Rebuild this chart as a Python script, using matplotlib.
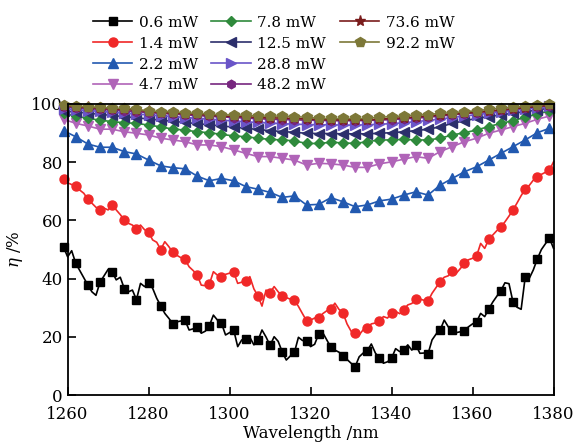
import numpy as np
import matplotlib
matplotlib.use("Agg")
import matplotlib.pyplot as plt
from matplotlib.lines import Line2D

plt.rcParams["font.family"] = ["DejaVu Serif"]
plt.rcParams["mathtext.fontset"] = "dejavuserif"

# 1 nm sampling for the two low-power curves (markers every 3 nm)
start_fine = 1259
p06 = [50.8, 47.5, 49.6, 45.3, 42.8, 40.3, 37.8, 35.5, 34.3, 38.8,
       41.0, 43.2, 42.4, 39.6, 40.5, 36.6, 35.5, 36.1, 32.8, 38.4,
       37.3, 38.5, 36.7, 33.3, 30.7, 28.1, 26.4, 24.5, 25.2, 25.5,
       25.7, 22.4, 22.8, 23.4, 21.3, 22.0, 23.9, 27.5, 25.8, 24.7,
       20.7, 21.5, 22.5, 16.7, 19.0, 19.2, 19.9, 17.3, 18.8, 22.4,
       20.0, 17.1, 20.1, 18.5, 14.9, 12.1, 13.5, 14.7, 19.9, 18.8,
       18.7, 16.7, 17.5, 21.0, 21.5, 19.0, 16.5, 15.5, 14.8, 13.6,
       12.3, 11.0, 9.8, 13.2, 14.5, 15.3, 17.6, 14.5, 12.7, 11.0,
       11.5, 12.7, 16.0, 15.0, 15.5, 17.3, 15.5, 17.3, 14.4, 14.5,
       14.2, 19.0, 21.0, 22.4, 25.8, 23.5, 22.4, 21.5, 21.8, 22.2,
       23.5, 24.5, 25.2, 28.1, 27.0, 29.6, 32.0, 34.0, 35.9, 38.6,
       38.3, 31.9, 30.2, 29.5, 40.5, 40.1, 43.0, 46.8, 50.0, 52.0,
       53.9, 50.4]
p14 = [74.2, 72.9, 72.3, 71.9, 70.4, 69.3, 67.2, 65.9, 64.5, 63.7,
       64.2, 63.6, 65.3, 63.6, 62.0, 60.1, 59.0, 58.4, 57.2, 58.4,
       56.8, 55.9, 53.3, 52.5, 50.0, 52.7, 51.0, 49.0, 48.0, 47.2,
       46.6, 44.1, 42.8, 41.3, 37.8, 37.6, 38.1, 42.4, 41.2, 40.6,
       41.5, 41.9, 42.3, 38.4, 38.8, 39.1, 40.7, 36.5, 34.1, 30.6,
       36.1, 35.2, 37.3, 35.5, 34.1, 33.5, 33.0, 32.6, 30.5, 28.0,
       25.6, 25.8, 26.5, 26.4, 28.0, 29.0, 29.5, 31.6, 29.5, 28.3,
       24.5, 22.0, 21.3, 20.7, 22.5, 23.0, 24.5, 24.8, 25.6, 27.0,
       26.5, 28.3, 28.8, 28.0, 29.3, 31.0, 31.5, 32.9, 33.0, 32.6,
       32.3, 35.0, 37.0, 39.0, 40.5, 41.0, 42.8, 41.9, 43.5, 45.3,
       46.5, 47.0, 47.8, 52.1, 50.4, 53.5, 55.0, 56.5, 57.8, 59.5,
       61.5, 63.6, 66.0, 68.5, 70.7, 72.0, 73.8, 75.0, 75.8, 76.5,
       77.3, 80.1]

# 3 nm sampling for the higher-power curves
start_coarse = 1259
p22 = [90.8, 88.7, 86.2, 85.1, 85.1, 83.6, 82.8, 80.7, 78.7, 78.1,
       77.7, 75.2, 73.6, 74.4, 73.6, 71.6, 70.7, 69.6, 67.9, 68.4,
       65.3, 65.5, 67.8, 66.4, 64.7, 65.3, 66.7, 67.3, 68.7, 69.8,
       68.7, 72.1, 74.4, 76.7, 78.4, 80.7, 83.0, 85.3, 87.6, 90.1,
       91.6]
p47 = [94.7, 93.3, 92.4, 91.3, 91.3, 90.4, 89.9, 89.3, 88.2, 87.6,
       87.0, 85.9, 85.9, 85.3, 84.2, 83.0, 81.9, 81.9, 81.3, 80.7,
       79.0, 79.6, 79.4, 79.0, 78.2, 78.2, 79.4, 80.1, 81.0, 81.9,
       81.3, 83.6, 85.3, 87.0, 88.2, 89.9, 91.0, 92.2, 93.3, 94.7,
       95.8]
p78 = [96.7, 95.8, 95.0, 94.4, 93.9, 93.5, 93.3, 92.7, 92.1, 91.3,
       91.0, 90.4, 90.1, 89.5, 89.0, 88.7, 88.2, 87.8, 87.6, 87.3,
       86.4, 86.4, 86.8, 86.6, 86.4, 87.0, 87.6, 87.6, 87.8, 87.6,
       87.6, 88.2, 89.3, 90.1, 91.0, 92.2, 93.3, 94.2, 95.4, 96.5,
       97.6]
p125 = [97.5, 97.2, 96.8, 96.4, 96.0, 95.6, 95.2, 94.8, 94.4, 94.0,
        93.6, 93.2, 92.8, 92.4, 92.0, 91.6, 91.2, 90.8, 90.5, 90.2,
        89.9, 89.8, 89.8, 89.7, 89.7, 89.7, 89.9, 90.1, 90.4, 90.8,
        91.3, 92.1, 93.3, 94.2, 95.0, 95.6, 96.2, 96.8, 97.3, 97.9,
        98.5]
p288 = [98.3, 98.0, 97.7, 97.4, 97.1, 96.8, 96.5, 96.2, 95.9, 95.6,
        95.3, 95.0, 94.7, 94.4, 94.1, 93.8, 93.6, 93.4, 93.2, 93.0,
        92.9, 92.8, 92.8, 92.7, 92.7, 92.8, 93.0, 93.2, 93.5, 93.9,
        94.3, 94.8, 95.3, 95.8, 96.3, 96.8, 97.3, 97.8, 98.3, 98.7,
        99.1]
p482 = [99.0, 98.7, 98.4, 98.1, 97.9, 97.6, 97.3, 97.0, 96.7, 96.5,
        96.2, 96.0, 95.7, 95.5, 95.3, 95.1, 94.9, 94.7, 94.6, 94.5,
        94.4, 94.3, 94.2, 94.2, 94.2, 94.3, 94.4, 94.6, 94.8, 95.1,
        95.4, 95.8, 96.2, 96.6, 97.0, 97.4, 97.8, 98.2, 98.6, 99.0,
        99.4]
p736 = [99.4, 99.0, 98.8, 98.5, 98.2, 98.1, 97.8, 97.4, 97.0, 96.9,
        96.6, 96.4, 96.1, 95.8, 95.7, 95.6, 95.3, 95.2, 95.1, 95.0,
        94.8, 94.6, 94.5, 94.5, 94.5, 94.5, 94.7, 95.0, 95.2, 95.5,
        95.8, 96.1, 96.5, 96.8, 97.1, 97.5, 97.9, 98.3, 98.7, 99.1,
        99.5]
p922 = [99.6, 99.2, 99.0, 98.8, 98.5, 98.5, 98.1, 97.6, 97.3, 97.3,
        96.9, 96.8, 96.5, 96.2, 96.2, 96.1, 95.8, 95.8, 95.8, 95.6,
        95.4, 95.0, 95.0, 95.0, 95.0, 95.0, 95.4, 95.6, 95.8, 96.2,
        96.2, 96.8, 96.9, 97.3, 97.6, 98.1, 98.5, 98.8, 99.2, 99.6,
        99.9]

labels = ["0.6 mW", "1.4 mW", "2.2 mW", "4.7 mW", "7.8 mW",
          "12.5 mW", "28.8 mW", "48.2 mW", "73.6 mW", "92.2 mW"]
colors = ["#000000", "#f02828", "#2259b0", "#b064b8", "#2f8a3c",
          "#2c2f6c", "#6a55c8", "#77267f", "#7a1c1c", "#7d7838"]
markers = ["s", "o", "^", "v", "D", "<", ">", "h", "*", "p"]
msizes = [5.5, 6.5, 6.5, 6.5, 5.2, 6.5, 6.5, 6.2, 8, 7]

fine = [p06, p14]
coarse = [p22, p47, p78, p125, p288, p482, p736, p922]

fig = plt.figure(figsize=(5.76, 4.45), dpi=100)
ax = fig.add_axes([0.1174, 0.1117, 0.8436, 0.655])

handles = []
for i, y in enumerate(fine + coarse):
    if i < 2:
        x = start_fine + np.arange(len(y))
        mk = 3
    else:
        x = start_coarse + 3 * np.arange(len(y))
        mk = 1
    ln, = ax.plot(x, y, color=colors[i], marker=markers[i], ms=msizes[i],
                  markevery=mk, lw=1.2, mec=colors[i], clip_on=False,
                  label=labels[i])
    handles.append(ln)

ax.set_xlim(1260, 1380)
ax.set_ylim(0, 100)
ax.set_xticks(np.arange(1260, 1381, 20))
ax.set_yticks(np.arange(0, 101, 20))
ax.tick_params(direction="in", length=6, width=1.2, labelsize=12,
               top=False, right=False)
ax.tick_params(axis="x", pad=8)
for s in ax.spines.values():
    s.set_linewidth(1.3)
ax.set_xlabel("Wavelength /nm", fontsize=12, labelpad=1)
ax.set_ylabel(r"$\eta$ /%", fontsize=12, labelpad=4)

# two blank entries so the legend fills 4 / 4 / 2
blank = Line2D([], [], linestyle="none")
leg_h = handles + [blank, blank]
leg_l = labels + ["", ""]
fig.legend(leg_h, leg_l, ncol=3, loc="upper left",
           bbox_to_anchor=(0.145, 0.985), frameon=False, fontsize=11,
           handlelength=2.6, handletextpad=0.4, columnspacing=0.9,
           labelspacing=0.45, borderaxespad=0.2)

fig.savefig("out.png", dpi=100)
